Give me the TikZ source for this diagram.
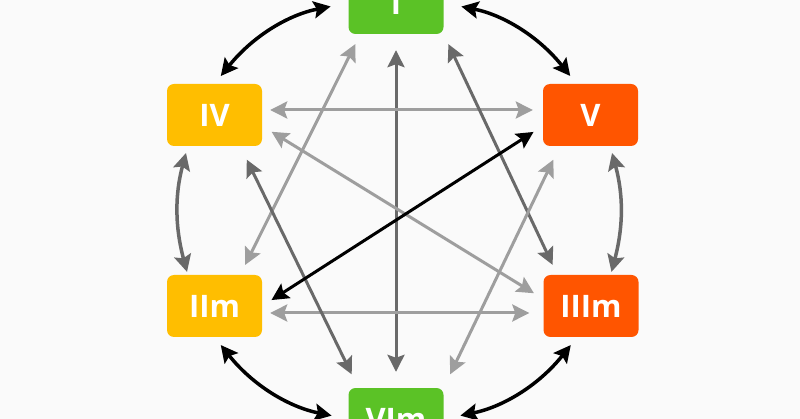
\documentclass[tikz,border=0pt]{standalone}
\usepackage{fontspec}
\setmainfont{Open Sans}
\usepackage{tikz}
\usetikzlibrary{arrows.meta,positioning}

\definecolor{tonicGreen}{RGB}{91,194,38}
\definecolor{subGold}{RGB}{255,190,0}
\definecolor{domRed}{RGB}{255,85,0}
\definecolor{darkLink}{RGB}{105,105,105}
\definecolor{lightLink}{RGB}{158,158,158}

\begin{document}
\begin{tikzpicture}[x=1pt,y=-1pt]
		\tikzstyle{Chord}	= [rectangle, rounded corners=7pt, minimum width=95pt, minimum height=62pt, inner sep=0pt, text=white, font=\fontsize{31}{36}\selectfont\bfseries]
		\tikzstyle{Tonic}	= [fill=tonicGreen]
		\tikzstyle{Sub}		= [fill=subGold]
		\tikzstyle{Dom}		= [fill=domRed]
		\tikzstyle{Both}	= [{Stealth[length=17pt,width=17pt,inset=3pt]}-{Stealth[length=17pt,width=17pt,inset=3pt]}]
		\tikzstyle{Ring}	= [Both, line width=3.5pt, black]
		\tikzstyle{RingGray}	= [Both, line width=3.5pt, darkLink]
		\tikzstyle{Strong}	= [Both, line width=3pt, darkLink]
		\tikzstyle{Weak}	= [Both, line width=3pt, lightLink]
		\tikzstyle{Main}	= [Both, line width=3pt, black]

		\fill[white!98!black] (0,0) rectangle (800,419);
		\useasboundingbox (0,0) rectangle (800,419);

		\node (I) at (396, 3) [Chord][Tonic] {I};
		\node (IV) at (214.5, 115) [Chord][Sub] {IV};
		\node (V) at (590.5, 115) [Chord][Dom] {V};
		\node (IIm) at (214.5, 306) [Chord][Sub] {IIm};
		\node (IIIm) at (591, 306) [Chord][Dom] {IIIm};
		\node (VIm) at (396, 419) [Chord][Tonic] {VIm};

		% outer ring
		\draw[Ring, shorten <=18pt, shorten >=10pt] (I.west) to[bend right=20] (IV.north);
		\draw[Ring, shorten <=18pt, shorten >=10pt] (I.east) to[bend left=20] ([xshift=-14pt]V.north);
		\draw[RingGray, shorten <=7pt, shorten >=3pt] ([xshift=21pt]IV.south west) to[bend right=15] ([xshift=21pt]IIm.north west);
		\draw[RingGray, shorten <=7pt, shorten >=3pt] ([xshift=-28pt]V.south east) to[bend left=15] ([xshift=-28pt]IIIm.north east);
		\draw[Ring, shorten <=10pt, shorten >=17pt] (IIm.south) to[bend right=20] (VIm.west);
		\draw[Ring, shorten <=17pt, shorten >=10pt] (VIm.east) to[bend right=20] ([xshift=-14pt]IIIm.south);

		% inner links
		\draw[Strong, shorten <=16pt, shorten >=16pt] (I.south) -- (VIm.north);
		\draw[Weak, shorten <=8pt, shorten >=10pt] ([yshift=5pt]IV.east) -- ([yshift=5pt]V.west);
		\draw[Weak, shorten <=8pt, shorten >=14pt] ([yshift=-7pt]IIm.east) -- ([yshift=-7pt]IIIm.west);
		\draw[Weak, shorten <=11pt, shorten >=11pt] ([xshift=12pt]I.south west) -- ([xshift=-22pt]IIm.north east);
		\draw[Strong, shorten <=11pt, shorten >=11pt] (I.south east) -- ([xshift=14pt]IIIm.north west);
		\draw[Strong, shorten <=15pt, shorten >=15pt] ([xshift=-22pt]IV.south east) -- ([xshift=10pt]VIm.north west);
		\draw[Weak, shorten <=15pt, shorten >=15pt] ([xshift=17pt]V.south west) -- (VIm.north east);
		\draw[Weak, shorten <=11pt, shorten >=11pt] ([yshift=-11pt]IV.east) -- ([yshift=7pt]IIIm.west);
		\draw[Main, shorten <=11pt, shorten >=11pt] ([yshift=-11pt]V.west) -- (IIm.east);
	\end{tikzpicture}
\end{document}
